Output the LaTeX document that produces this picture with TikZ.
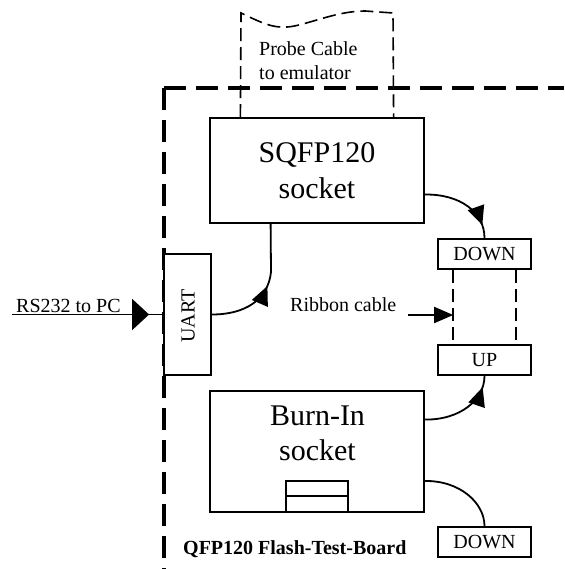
\documentclass[tikz,border=0pt]{standalone}
\usepackage{fontspec}
\setmainfont{Liberation Serif}
\usetikzlibrary{arrows.meta,decorations.markings,calc}
\begin{document}
\begin{tikzpicture}[x=1pt,y=-1pt,
  every node/.style={font=\fontsize{20}{24}\selectfont},
  box/.style={draw,line width=1.8pt,inner sep=0pt},
  bigtxt/.style={font=\fontsize{30}{35}\selectfont,inner sep=0pt,anchor=base},
  txt/.style={inner sep=0pt,anchor=base west},
  conn/.style={line width=1.8pt},
  board/.style={line width=3.5pt,dash pattern=on 22pt off 10pt},
  thindash/.style={line width=1.6pt,dash pattern=on 13pt off 6pt},
  arrowat/.style={postaction={decorate,decoration={markings,
      mark=at position #1 with {\arrow{Triangle[length=19pt,width=17pt]}}}}},
]
\useasboundingbox (0,0) rectangle (564,569);

% board outline
\coordinate (bc) at (164,88);
\coordinate (br) at (564,88);
\coordinate (bb) at (164,569);
\draw[board] (bc) -- (br);
\draw[board] (bc) -- (bb);

% boxes
\node[box,minimum width=214pt,minimum height=105pt] (sq) at (317,170.5) {};
\node[bigtxt] (sqt1) at (317,163) {SQFP120};
\node[bigtxt] (sqt2) at (317,198) {socket};

\node[box,minimum width=214pt,minimum height=121pt] (bi) at (317,451.5) {};
\node[bigtxt] (bit1) at (317.5,425) {Burn-In};
\node[bigtxt] (bit2) at (317.5,460) {socket};
\draw[line width=1.8pt] (286,481) rectangle (348,512);
\draw[line width=1.8pt] (286,496) -- (348,496);

\node[box,fill=white,minimum width=47pt,minimum height=121pt] (uart) at (187.5,314.5) {};
\node[inner sep=0pt,rotate=90] (uartt) at (188,316) {UART};

\node[box,minimum width=93pt,minimum height=30pt] (dn1) at (484.5,254) {DOWN};
\node[box,minimum width=93pt,minimum height=30pt] (up) at (484.5,360) {UP};
\node[box,minimum width=93pt,minimum height=30pt] (dn2) at (484.5,542) {DOWN};

% probe cable
\coordinate (pl) at ($(sq.north west)!0.145!(sq.north east)$);
\coordinate (pr) at ($(sq.north west)!0.855!(sq.north east)$);
\coordinate (pc1) at (241,13);
\coordinate (pcm) at (287,27);
\coordinate (pcn) at (365,11);
\coordinate (pc2) at (393,13);
\draw[thindash] (pl) -- (pc1) .. controls (262,23) and (272,28) .. (pcm)
  .. controls (305,26) and (335,11) .. (pcn) -- (pc2) -- (pr);
\node[txt] (pt1) at (259,56) {Probe Cable};
\node[txt] (pt2) at (259,80) {to emulator};

% ribbon cable
\coordinate (r1t) at ($(dn1.south west)!0.17!(dn1.south east)$);
\coordinate (r1b) at ($(up.north west)!0.17!(up.north east)$);
\coordinate (r2t) at ($(dn1.south west)!0.83!(dn1.south east)$);
\coordinate (r2b) at ($(up.north west)!0.83!(up.north east)$);
\draw[thindash] (r1t) -- (r1b);
\draw[thindash] (r2t) -- (r2b);
\coordinate (rib) at (408,315);
\draw[conn,-{Triangle[length=19pt,width=16pt]}] (rib) -- (rib -| r1t);
\node[txt] (ribt) at (290,311) {Ribbon cable};

% RS232
\coordinate (rs) at (12,314.5);
\draw[conn,postaction={decorate,decoration={markings,
   mark=at position -14pt with {\arrow{Triangle[length=17pt,width=31pt]}}}}]
   (rs) -- (uart.west);
\node[txt] (rst) at (16,312) {RS232 to PC};

% UART -> SQFP
\coordinate (usq) at ($(sq.south west)!0.285!(sq.south east)$);
\draw[conn,arrowat=0.82] (uart.east) .. controls (245,314.5) and (268,300) .. (271,272);
\draw[conn] (271,272) -- (usq);

% SQFP -> DOWN
\coordinate (sqe) at ($(sq.north east)!0.725!(sq.south east)$);
\draw[conn,arrowat=0.84] (sqe) .. controls (460,194) and (484.5,212) .. (dn1.north);

% Burn-In -> UP
\coordinate (bie1) at ($(bi.north east)!0.24!(bi.south east)$);
\draw[conn,arrowat=0.86] (bie1) .. controls (460,420) and (484.5,400) .. (up.south);

% Burn-In -> DOWN
\coordinate (bie2) at ($(bi.north east)!0.74!(bi.south east)$);
\draw[conn] (bie2) .. controls (460,480.5) and (484.5,503) .. (dn2.north);

\node[txt,font=\bfseries\fontsize{20}{24}\selectfont] (lbl) at (183,554) {QFP120 Flash-Test-Board};
\end{tikzpicture}
\end{document}
